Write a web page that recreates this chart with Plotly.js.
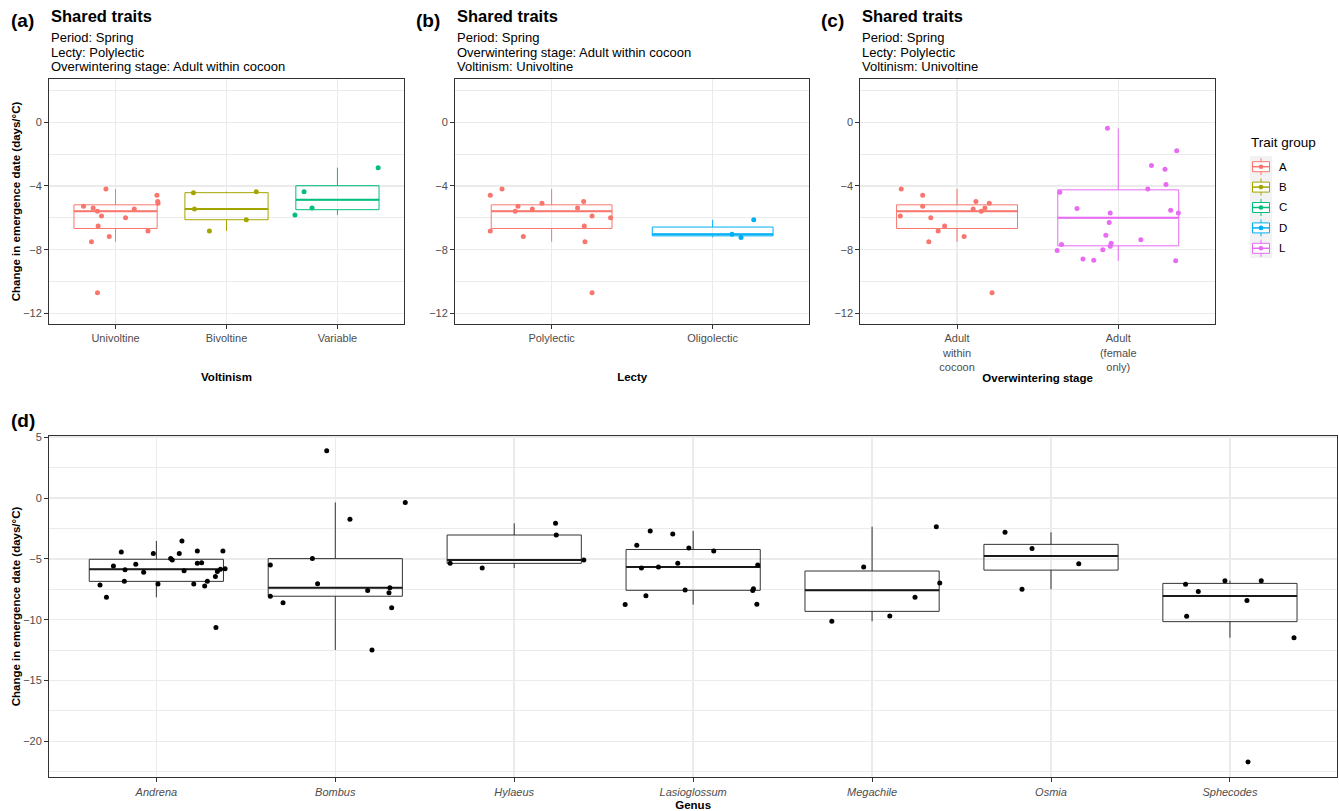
<!DOCTYPE html>
<html><head><meta charset="utf-8">
<script src="https://cdn.plot.ly/plotly-3.0.1.min.js"></script>
<style>html,body{margin:0;padding:0;background:#fff}#chart{width:1339px;height:811px}</style>
</head><body><div id="chart"></div>
<script>
// ---------- categories / tick labels ----------
const voltinismCats = ['Univoltine', 'Bivoltine', 'Variable'];
const lectyCats = ['Polylectic', 'Oligolectic'];
const overwinterCats = ['Adult<br>within<br>cocoon', 'Adult<br>(female<br>only)'];
const genusCats = ['Andrena', 'Bombus', 'Hylaeus', 'Lasioglossum', 'Megachile', 'Osmia', 'Sphecodes'];
const traitGroups = ['A', 'B', 'C', 'D', 'L'];

// ---------- trait-group values (change in emergence date, days/°C) ----------
const groupA = [-4.19, -4.59, -4.98, -5.09, -5.28, -5.38, -5.44, -5.59, -5.88, -5.99, -6.51, -6.83, -7.18, -7.50, -10.70];
const groupB = [-4.36, -4.42, -5.45, -6.12, -6.83];
const groupC = [-2.85, -4.36, -5.38, -5.82];
const groupD = [-6.12, -7.04, -7.23];
const groupL = [-0.38, -1.78, -2.72, -2.95, -3.90, -4.19, -4.40, -5.42, -5.70, -5.53, -5.70, -6.30, -7.10, -7.37, -7.67, -7.60, -7.79, -8.00, -8.06, -8.58, -8.66, -8.70];

// jitter offsets (category units) as drawn in each panel
const jitterA_volt = [-0.087, 0.373, 0.380, 0.383, -0.289, -0.202, 0.169, -0.163, -0.127, 0.090, -0.157, 0.292, -0.057, -0.217, -0.163];
const jitterA_lecty = [-0.308, -0.381, 0.199, -0.060, -0.209, 0.161, -0.120, -0.226, 0.251, 0.366, 0.203, -0.381, -0.176, 0.207, 0.251];
const jitterA_winter = [-0.346, -0.213, 0.117, 0.200, -0.213, 0.173, 0.100, 0.150, -0.352, -0.163, -0.077, -0.117, 0.044, -0.175, 0.217];
const jitterB = [0.268, -0.298, -0.289, 0.178, -0.154];
const jitterC = [0.367, -0.301, -0.229, -0.383];
const jitterD = [0.255, 0.120, 0.176];
const jitterL = [-0.067, 0.3625, 0.206, 0.290, 0.296, 0.183, -0.3625, -0.256, -0.050, 0.325, 0.373, -0.056, -0.077, 0.140, -0.352, -0.044, -0.050, -0.096, -0.379, -0.219, -0.152, 0.356];

// ---------- genus values ----------
const andrena = [-4.44, -4.57, -3.53, -4.57, -4.35, -4.35, -4.98, -5.09, -5.59, -5.45, -5.37, -5.31, -5.89, -6.11, -5.97, -6.03, -5.86, -5.81, -6.46, -6.85, -6.85, -7.15, -7.07, -7.07, -7.23, -8.16, -10.65];
const bombus = [3.89, -0.36, -1.75, -4.98, -5.51, -7.04, -7.61, -7.37, -7.78, -8.07, -8.60, -9.01, -12.49];
const hylaeus = [-2.08, -3.04, -5.09, -5.37, -5.75];
const lasioglossum = [-2.71, -2.96, -3.89, -4.11, -4.35, -5.37, -5.51, -5.67, -5.75, -7.56, -7.45, -7.61, -8.03, -8.76, -8.74];
const megachile = [-2.36, -5.67, -6.98, -8.16, -9.70, -10.13];
const osmia = [-2.82, -4.14, -5.40, -7.50];
const sphecodes = [-6.79, -6.79, -7.09, -7.68, -8.42, -9.72, -11.48, -21.69];

const jitterAndrena = [-0.196, -0.017, 0.143, 0.128, 0.229, 0.372, 0.080, 0.089, -0.240, -0.115, 0.229, 0.253, -0.175, -0.071, 0.155, 0.341, 0.358, 0.384, 0.330, -0.179, 0.285, -0.315, 0.009, 0.209, 0.270, -0.279, 0.333];
const jitterBombus = [-0.048, 0.391, 0.082, -0.128, -0.363, -0.099, 0.181, 0.305, 0.300, -0.363, -0.292, 0.315, 0.205];
const jitterHylaeus = [0.231, 0.235, 0.389, -0.358, -0.179];
const jitterLasioglossum = [-0.240, -0.114, -0.315, -0.024, 0.115, -0.086, 0.361, -0.194, -0.289, -0.045, 0.337, 0.333, -0.264, -0.380, 0.356];
const jitterMegachile = [0.359, -0.047, 0.378, 0.240, 0.099, -0.225];
const jitterOsmia = [-0.257, -0.106, 0.155, -0.162];
const jitterSphecodes = [-0.028, 0.175, -0.248, -0.177, 0.095, -0.242, 0.358, 0.101];

// ---------- styling ----------
const traitColors = {A: '#F8766D', B: '#A3A500', C: '#00BF7D', D: '#00B0F6', L: '#E76BF3'};
const FONT = 'Arial, "Liberation Sans", sans-serif';
const W = 1339, H = 811;
const px = v => v / W, py = v => 1 - v / H;
const BOXW = 0.75;

function q7(s, p) { const h = (s.length - 1) * p, lo = Math.floor(h), hi = Math.ceil(h); return s[lo] + (h - lo) * (s[hi] - s[lo]); }
function boxStats(v) {
  const s = [...v].sort((a, b) => a - b);
  const q1 = q7(s, 0.25), med = q7(s, 0.5), q3 = q7(s, 0.75), iqr = q3 - q1;
  const lf = Math.min(...s.filter(x => x >= q1 - 1.5 * iqr));
  const uf = Math.max(...s.filter(x => x <= q3 + 1.5 * iqr));
  return {q1, med, q3, lf, uf};
}

const traces = [];
function addGroup(vals, jit, pos, xa, ya, o) {
  const st = boxStats(vals);
  traces.push({type: 'box', x: [pos], q1: [st.q1], median: [st.med], q3: [st.q3],
    lowerfence: [st.lf], upperfence: [st.uf], boxpoints: false, width: BOXW, whiskerwidth: 0,
    line: {color: o.line, width: 1}, fillcolor: 'rgba(0,0,0,0)', xaxis: xa, yaxis: ya,
    showlegend: false, hoverinfo: 'skip'});
  traces.push({type: 'scatter', mode: 'lines', x: [pos - BOXW / 2, pos + BOXW / 2], y: [st.med, st.med],
    line: {color: o.med, width: 2}, xaxis: xa, yaxis: ya, showlegend: false, hoverinfo: 'skip'});
  traces.push({type: 'scatter', mode: 'markers', x: vals.map((_, i) => pos + jit[i]), y: vals,
    marker: {color: o.pt, size: 5}, xaxis: xa, yaxis: ya, showlegend: false, hoverinfo: 'skip'});
}
const tc = g => ({line: traitColors[g], med: traitColors[g], pt: traitColors[g]});

// panel (a) Voltinism
addGroup(groupA, jitterA_volt, voltinismCats.indexOf('Univoltine'), 'x', 'y', tc('A'));
addGroup(groupB, jitterB, voltinismCats.indexOf('Bivoltine'), 'x', 'y', tc('B'));
addGroup(groupC, jitterC, voltinismCats.indexOf('Variable'), 'x', 'y', tc('C'));
// panel (b) Lecty
addGroup(groupA, jitterA_lecty, lectyCats.indexOf('Polylectic'), 'x2', 'y2', tc('A'));
addGroup(groupD, jitterD, lectyCats.indexOf('Oligolectic'), 'x2', 'y2', tc('D'));
// panel (c) Overwintering stage
addGroup(groupA, jitterA_winter, 0, 'x3', 'y3', tc('A'));
addGroup(groupL, jitterL, 1, 'x3', 'y3', tc('L'));
// panel (d) Genus
const genusVals = [andrena, bombus, hylaeus, lasioglossum, megachile, osmia, sphecodes];
const genusJit = [jitterAndrena, jitterBombus, jitterHylaeus, jitterLasioglossum, jitterMegachile, jitterOsmia, jitterSphecodes];
genusCats.forEach((g, i) => addGroup(genusVals[i], genusJit[i], i, 'x4', 'y4', {line: '#333333', med: '#1a1a1a', pt: '#000000'}));

// ---------- axes ----------
const tickFont = {family: FONT, size: 11, color: '#4D4D4D'};
const base = {showline: true, mirror: true, linecolor: '#333333', linewidth: 1, ticks: 'outside', ticklen: 4,
  tickcolor: '#333333', tickwidth: 1, gridcolor: '#EBEBEB', gridwidth: 1.5, zeroline: false, tickfont: tickFont,
  fixedrange: true, automargin: false, showgrid: true};
function xAx(dom, cats, anchor, title, standoff, italic) {
  return {...base, domain: [px(dom[0]), px(dom[1])], anchor, range: [-0.6, cats.length - 0.4],
    tickmode: 'array', tickvals: cats.map((_, i) => i), ticktext: italic ? cats.map(c => '<i>' + c + '</i>') : cats,
    title: {text: '<b>' + title + '</b>', font: {family: FONT, size: 11.5, color: '#000'}, standoff}};
}
const yTitle = {text: '<b>Change in emergence date (days/°C)</b>', font: {family: FONT, size: 11.5, color: '#000'}, standoff: 0};
function yAxTop(anchor, withTitle) {
  const a = {...base, domain: [py(324), py(79)], anchor, range: [-12.67, 2.72], tickmode: 'linear', tick0: 0, dtick: 4,
    minor: {tick0: 0, dtick: 2, showgrid: true, gridcolor: '#EBEBEB', gridwidth: 1, ticks: ''}};
  if (withTitle) a.title = yTitle;
  return a;
}

const layout = {
  width: W, height: H, margin: {l: 0, r: 0, t: 0, b: 0}, paper_bgcolor: '#fff', plot_bgcolor: '#fff',
  hovermode: false, showlegend: false, font: {family: FONT},
  xaxis: xAx([49, 404], voltinismCats, 'y', 'Voltinism', 29),
  xaxis2: xAx([455, 809.3], lectyCats, 'y2', 'Lecty', 29),
  xaxis3: xAx([860.3, 1215], overwinterCats, 'y3', 'Overwintering stage', 2),
  xaxis4: xAx([49, 1337.3], genusCats, 'y4', 'Genus', 5, true),
  yaxis: yAxTop('x', true),
  yaxis2: yAxTop('x2', false),
  yaxis3: yAxTop('x3', false),
  yaxis4: {...base, domain: [py(777.3), py(435.7)], anchor: 'x4', range: [-22.95, 5.12], tickmode: 'linear', tick0: 0, dtick: 5,
    minor: {tick0: 0, dtick: 2.5, showgrid: true, gridcolor: '#EBEBEB', gridwidth: 1, ticks: ''}, title: yTitle},
  annotations: [],
  shapes: []
};

// ---------- titles / subtitles ----------
const panelTexts = [
  {tag: '(a)', tagX: 9, x: 49, lines: ['Period: Spring', 'Lecty: Polylectic', 'Overwintering stage: Adult within cocoon']},
  {tag: '(b)', tagX: 414, x: 455, lines: ['Period: Spring', 'Overwintering stage: Adult within cocoon', 'Voltinism: Univoltine']},
  {tag: '(c)', tagX: 819, x: 860, lines: ['Period: Spring', 'Lecty: Polylectic', 'Voltinism: Univoltine']}
];
const ann = (text, x, y, size, opts = {}) => layout.annotations.push({xref: 'paper', yref: 'paper', x: px(x), y: py(y),
  xanchor: 'left', yanchor: 'middle', showarrow: false, text, font: {family: FONT, size, color: '#000'}, ...opts});
panelTexts.forEach(p => {
  ann('<b>' + p.tag + '</b>', p.tagX, 21, 19);
  ann('<b>Shared traits</b>', p.x, 16, 16.5);
  p.lines.forEach((l, i) => ann(l, p.x, 38 + i * 14.3, 13));
});
ann('<b>(d)</b>', 9, 420, 19);

// ---------- legend (ggplot-style keys) ----------
ann('Trait group', 1249, 142, 13.5);
const shp = s => layout.shapes.push({xref: 'paper', yref: 'paper', ...s});
const K = {x0: 1250, x1: 1272, top: 156, step: 20.4};
shp({type: 'rect', x0: px(K.x0), x1: px(K.x1), y0: py(K.top), y1: py(K.top + K.step * traitGroups.length), fillcolor: '#F2F2F2', line: {width: 0}, layer: 'below'});
traitGroups.forEach((g, i) => {
  const cy = K.top + K.step * (i + 0.5) + 0.5, cx = (K.x0 + K.x1) / 2, col = traitColors[g];
  shp({type: 'line', x0: px(cx), x1: px(cx), y0: py(cy - 8.5), y1: py(cy + 8.5), line: {color: col, width: 1}});
  shp({type: 'rect', x0: px(K.x0 + 2.5), x1: px(K.x1 - 2.5), y0: py(cy - 5), y1: py(cy + 5), fillcolor: '#FFFFFF', line: {color: col, width: 1}});
  shp({type: 'line', x0: px(K.x0 + 2.5), x1: px(K.x1 - 2.5), y0: py(cy), y1: py(cy), line: {color: col, width: 1.5}});
  shp({type: 'circle', x0: px(cx - 2.3), x1: px(cx + 2.3), y0: py(cy - 2.3), y1: py(cy + 2.3), fillcolor: col, line: {width: 0}});
  ann(g, 1277, cy, 11.5);
});

Plotly.newPlot('chart', traces, layout, {displayModeBar: false, staticPlot: true});
</script></body></html>
